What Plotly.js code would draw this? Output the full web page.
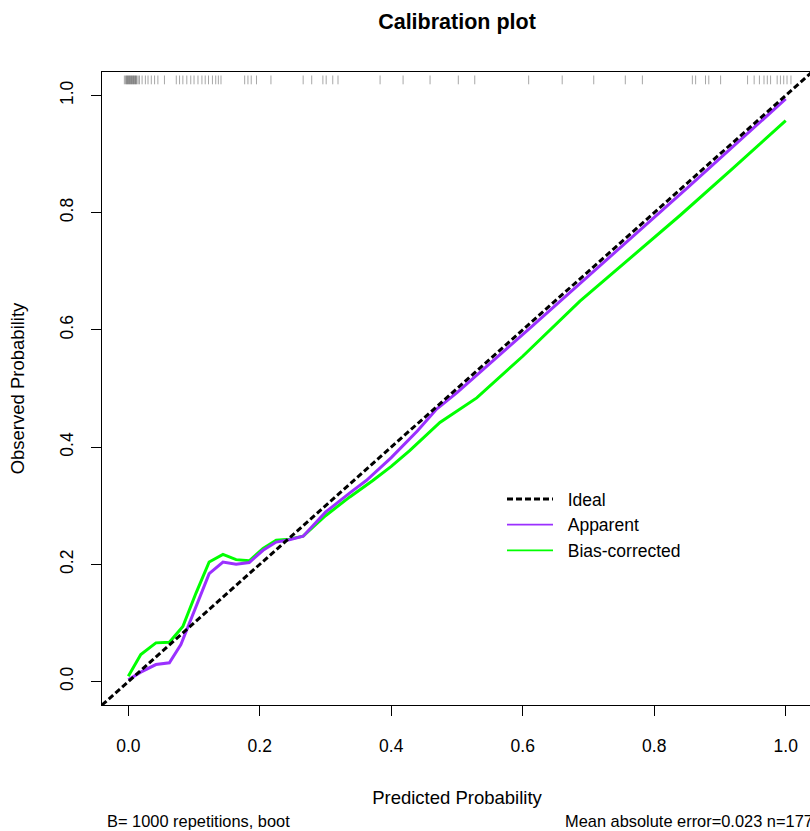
<!DOCTYPE html>
<html><head><meta charset="utf-8">
<script src="https://cdn.plot.ly/plotly-3.0.1.min.js"></script>
<style>html,body{margin:0;padding:0;overflow:hidden;background:#fff}#chart{width:812px;height:831px}</style>
</head><body><div id="chart"></div>
<script>
// Ideal reference line
const idealX = [-0.04, 1.04];
const idealY = [-0.04, 1.04];
// Apparent calibration curve
const apparentX = [0.0, 0.019, 0.042, 0.0625, 0.080, 0.103, 0.123, 0.144, 0.164, 0.184, 0.205, 0.225, 0.245, 0.266, 0.30, 0.337, 0.362, 0.40, 0.44, 0.469, 0.50, 0.611, 0.728, 0.85, 1.0];
const apparentY = [0.003, 0.016, 0.029, 0.032, 0.063, 0.128, 0.184, 0.204, 0.200, 0.203, 0.224, 0.238, 0.242, 0.248, 0.289, 0.322, 0.343, 0.382, 0.428, 0.465, 0.493, 0.603, 0.720, 0.842, 0.994];
// Bias-corrected calibration curve
const biasX = [0.0, 0.019, 0.042, 0.0625, 0.083, 0.103, 0.123, 0.144, 0.164, 0.184, 0.205, 0.225, 0.245, 0.266, 0.30, 0.337, 0.372, 0.40, 0.428, 0.474, 0.53, 0.60, 0.687, 0.761, 0.84, 0.92, 1.0];
const biasY = [0.009, 0.046, 0.066, 0.067, 0.094, 0.151, 0.204, 0.217, 0.208, 0.206, 0.227, 0.241, 0.243, 0.248, 0.283, 0.315, 0.343, 0.367, 0.394, 0.442, 0.484, 0.555, 0.649, 0.720, 0.796, 0.876, 0.957];
// Rug of predicted probabilities (top)
const rugX = [-0.006, -0.004, -0.003, -0.002, -0.001, 0.0, 0.001, 0.002, 0.003, 0.004, 0.005, 0.006, 0.007, 0.008, 0.009, 0.010, 0.011, 0.012, 0.013, 0.015, 0.017,
  0.021, 0.026, 0.030, 0.035, 0.040, 0.045, 0.055,
  0.073, 0.078, 0.083, 0.089, 0.095, 0.100, 0.106, 0.112, 0.117, 0.122, 0.128, 0.133, 0.137, 0.141,
  0.177, 0.182, 0.187, 0.195, 0.217, 0.266, 0.279, 0.296, 0.301, 0.311, 0.319,
  0.383, 0.418, 0.459, 0.502, 0.527, 0.609, 0.660, 0.708, 0.756, 0.782, 0.858, 0.863, 0.878, 0.883, 0.901,
  0.942, 0.952, 0.960, 0.967, 0.972, 0.977, 0.987, 0.992, 0.997, 1.002, 1.008];
const xTicks = [0, 0.2, 0.4, 0.6, 0.8, 1.0];
const yTicks = [0, 0.2, 0.4, 0.6, 0.8, 1.0];
const seriesNames = ['Ideal', 'Apparent', 'Bias-corrected'];

const rugLo = 1.019, rugHi = 1.034;
const rx = [], ry = [];
rugX.forEach(v => { rx.push(v, v, null); ry.push(rugLo, rugHi, null); });

const FONT = 'Liberation Sans, Arial, Helvetica, sans-serif';
const NB = '\u00a0\u00a0';
const traces = [
  {x: rx, y: ry, mode: 'lines', line: {color: 'rgba(0,0,0,0.35)', width: 1}, showlegend: false, hoverinfo: 'skip'},
  {x: biasX, y: biasY, mode: 'lines', name: seriesNames[2], line: {color: '#00FF00', width: 3}, showlegend: false},
  {x: apparentX, y: apparentY, mode: 'lines', name: seriesNames[1], line: {color: '#9B30FF', width: 3}, showlegend: false},
  {x: idealX, y: idealY, mode: 'lines', name: seriesNames[0], line: {color: '#000000', width: 3, dash: '6px,3px'}, showlegend: false},
  // legend keys (R draws the legend lines thinner than the curves)
  {x: [null], y: [null], mode: 'lines', name: NB + seriesNames[0], line: {color: '#000000', width: 3, dash: '6px,3px'}, legendrank: 1},
  {x: [null], y: [null], mode: 'lines', name: NB + seriesNames[1], line: {color: '#9B30FF', width: 1.6}, legendrank: 2},
  {x: [null], y: [null], mode: 'lines', name: NB + seriesNames[2], line: {color: '#00FF00', width: 1.6}, legendrank: 3}
];
const axisCommon = {
  showgrid: false, zeroline: false, showline: true, mirror: true, linecolor: '#000', linewidth: 1,
  ticks: 'outside', ticklen: 10, tickwidth: 1, tickcolor: '#000', tickformat: '.1f',
  tickfont: {family: FONT, size: 17.5, color: '#000'}, fixedrange: true
};
const layout = {
  width: 812, height: 831,
  margin: {l: 102, r: 0, t: 72, b: 126},
  paper_bgcolor: '#fff', plot_bgcolor: '#fff',
  font: {family: FONT, color: '#000'},
  title: {text: '<b>Calibration plot</b>', font: {family: FONT, size: 21.5, color: '#000'}, x: 457/812, xanchor: 'center', xref: 'container', y: 1 - 21/831, yanchor: 'middle', yref: 'container'},
  xaxis: Object.assign({}, axisCommon, {range: [-0.04, 1.04], tickvals: xTicks, ticklabelstandoff: 15,
    title: {text: 'Predicted Probability', font: {family: FONT, size: 18.5, color: '#000'}, standoff: 36}}),
  yaxis: Object.assign({}, axisCommon, {range: [-0.04, 1.04], tickvals: yTicks, tickangle: -90, ticklabelstandoff: 11,
    title: {text: 'Observed Probability', font: {family: FONT, size: 18.5, color: '#000'}, standoff: 27}}),
  showlegend: true,
  legend: {x: (502-102)/710, y: 1 - (481-72)/633, xanchor: 'left', yanchor: 'top', bgcolor: 'rgba(0,0,0,0)',
    font: {family: FONT, size: 17.5, color: '#000'}, traceorder: 'normal', itemwidth: 46},
  annotations: [
    {text: 'B= 1000 repetitions, boot', xref: 'paper', yref: 'paper', x: 3/710, y: -116/633, xanchor: 'left', yanchor: 'middle', showarrow: false, font: {family: FONT, size: 16.4, color: '#000'}},
    {text: 'Mean absolute error=0.023 n=177', xref: 'paper', yref: 'paper', x: (563-102)/710, y: -116/633, xanchor: 'left', yanchor: 'middle', showarrow: false, font: {family: FONT, size: 16.4, color: '#000'}}
  ]
};
Plotly.newPlot('chart', traces, layout, {displayModeBar: false, staticPlot: true});
</script></body></html>
